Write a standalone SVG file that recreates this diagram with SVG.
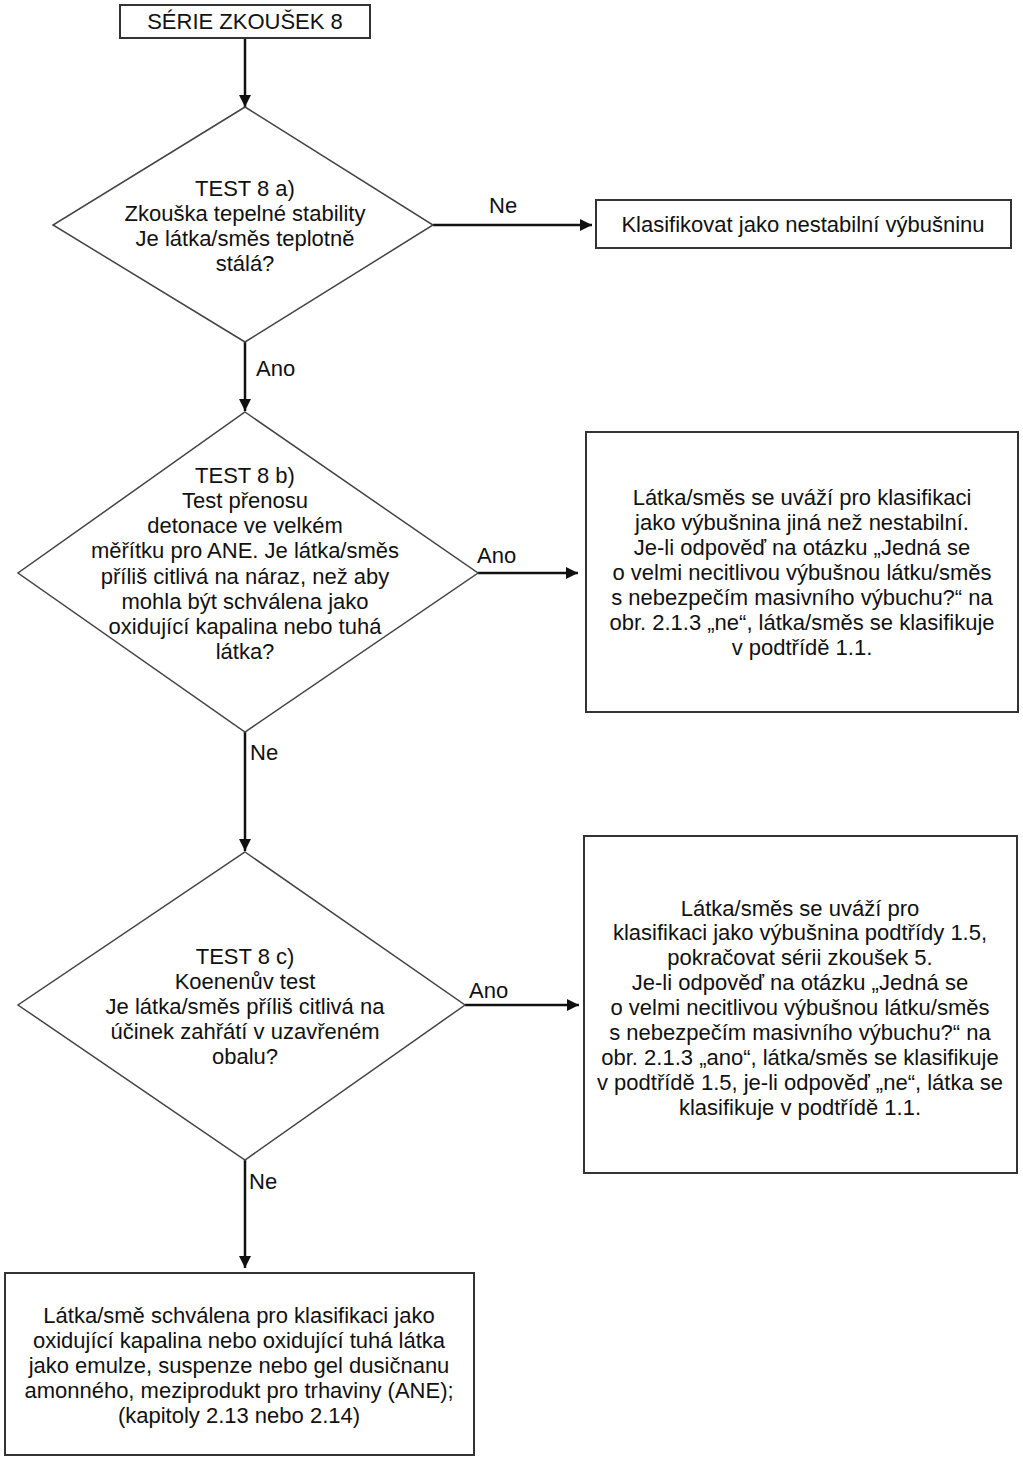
<svg xmlns="http://www.w3.org/2000/svg" width="1023" height="1464" viewBox="0 0 1023 1464">
<defs>
<marker id="ah" viewBox="0 0 10 10" refX="10" refY="5" markerWidth="5" markerHeight="5" orient="auto" markerUnits="strokeWidth">
<path d="M0,0 L10,5 L0,10 z" fill="#111"/>
</marker>
</defs>
<style>
.box{fill:#fff;stroke:#333;stroke-width:2}
.dia{fill:#fff;stroke:#444;stroke-width:1.5}
.t{font-family:"Liberation Sans",Arial,sans-serif;font-size:22px;fill:#111;text-anchor:middle}
.lbl{font-family:"Liberation Sans",Arial,sans-serif;font-size:22px;fill:#111}
.c{stroke:#111;stroke-width:2.5;fill:none;marker-end:url(#ah)}
</style>
<rect width="1023" height="1464" fill="#fff"/>
<g id="connectors">
<line class="c" x1="245" y1="38" x2="245" y2="107"/>
<line class="c" x1="433" y1="225" x2="592" y2="225"/>
<line class="c" x1="245" y1="342" x2="245" y2="411"/>
<line class="c" x1="478" y1="573" x2="578" y2="573"/>
<line class="c" x1="245" y1="732" x2="245" y2="851"/>
<line class="c" x1="465" y1="1005" x2="579" y2="1005"/>
<line class="c" x1="245" y1="1160" x2="245" y2="1268"/>
<text class="lbl" x="489" y="213">Ne</text>
<text class="lbl" x="256" y="376">Ano</text>
<text class="lbl" x="477" y="563">Ano</text>
<text class="lbl" x="250" y="760">Ne</text>
<text class="lbl" x="469" y="998">Ano</text>
<text class="lbl" x="249" y="1189">Ne</text>
</g>
<g id="start">
<rect class="box" x="120" y="5" width="250" height="33"/>
<text class="t" x="245" y="29">SÉRIE ZKOUŠEK 8</text>
</g>
<g id="test8a">
<polygon class="dia" points="245,107 433,225 245,342 53,225"/>
<text class="t" x="245" y="196">TEST 8 a)</text>
<text class="t" x="245" y="221">Zkouška tepelné stability</text>
<text class="t" x="245" y="246">Je látka/směs teplotně</text>
<text class="t" x="245" y="271">stálá?</text>
</g>
<g id="unstable">
<rect class="box" x="596" y="200" width="415" height="48"/>
<text class="t" x="803" y="232">Klasifikovat jako nestabilní výbušninu</text>
</g>
<g id="test8b">
<polygon class="dia" points="245,412 478,573 245,732 18,573"/>
<text class="t" x="245" y="483">TEST 8 b)</text>
<text class="t" x="245" y="508">Test přenosu</text>
<text class="t" x="245" y="533">detonace ve velkém</text>
<text class="t" x="245" y="558">měřítku pro ANE. Je látka/směs</text>
<text class="t" x="245" y="584">příliš citlivá na náraz, než aby</text>
<text class="t" x="245" y="609">mohla být schválena jako</text>
<text class="t" x="245" y="634">oxidující kapalina nebo tuhá</text>
<text class="t" x="245" y="659">látka?</text>
</g>
<g id="explosive">
<rect class="box" x="586" y="432" width="432" height="280"/>
<text class="t" x="802" y="505">Látka/směs se uváží pro klasifikaci</text>
<text class="t" x="802" y="530">jako výbušnina jiná než nestabilní.</text>
<text class="t" x="802" y="555">Je-li odpověď na otázku „Jedná se</text>
<text class="t" x="802" y="580">o velmi necitlivou výbušnou látku/směs</text>
<text class="t" x="802" y="605">s nebezpečím masivního výbuchu?“ na</text>
<text class="t" x="802" y="630">obr. 2.1.3 „ne“, látka/směs se klasifikuje</text>
<text class="t" x="802" y="655">v podtřídě 1.1.</text>
</g>
<g id="test8c">
<polygon class="dia" points="245,852 465,1005 245,1160 18,1005"/>
<text class="t" x="245" y="964">TEST 8 c)</text>
<text class="t" x="245" y="989">Koenenův test</text>
<text class="t" x="245" y="1014">Je látka/směs příliš citlivá na</text>
<text class="t" x="245" y="1039">účinek zahřátí v uzavřeném</text>
<text class="t" x="245" y="1064">obalu?</text>
</g>
<g id="division15">
<rect class="box" x="584" y="836" width="433" height="337"/>
<text class="t" x="800" y="916">Látka/směs se uváží pro</text>
<text class="t" x="800" y="940">klasifikaci jako výbušnina podtřídy 1.5,</text>
<text class="t" x="800" y="965">pokračovat sérii zkoušek 5.</text>
<text class="t" x="800" y="990">Je-li odpověď na otázku „Jedná se</text>
<text class="t" x="800" y="1015">o velmi necitlivou výbušnou látku/směs</text>
<text class="t" x="800" y="1040">s nebezpečím masivního výbuchu?“ na</text>
<text class="t" x="800" y="1065">obr. 2.1.3 „ano“, látka/směs se klasifikuje</text>
<text class="t" x="800" y="1090">v podtřídě 1.5, je-li odpověď „ne“, látka se</text>
<text class="t" x="800" y="1115">klasifikuje v podtřídě 1.1.</text>
</g>
<g id="oxidizer">
<rect class="box" x="5" y="1273" width="469" height="182"/>
<text class="t" x="239" y="1323">Látka/smě schválena pro klasifikaci jako</text>
<text class="t" x="239" y="1348">oxidující kapalina nebo oxidující tuhá látka</text>
<text class="t" x="239" y="1373">jako emulze, suspenze nebo gel dusičnanu</text>
<text class="t" x="239" y="1398">amonného, meziprodukt pro trhaviny (ANE);</text>
<text class="t" x="239" y="1423">(kapitoly 2.13 nebo 2.14)</text>
</g>
</svg>
